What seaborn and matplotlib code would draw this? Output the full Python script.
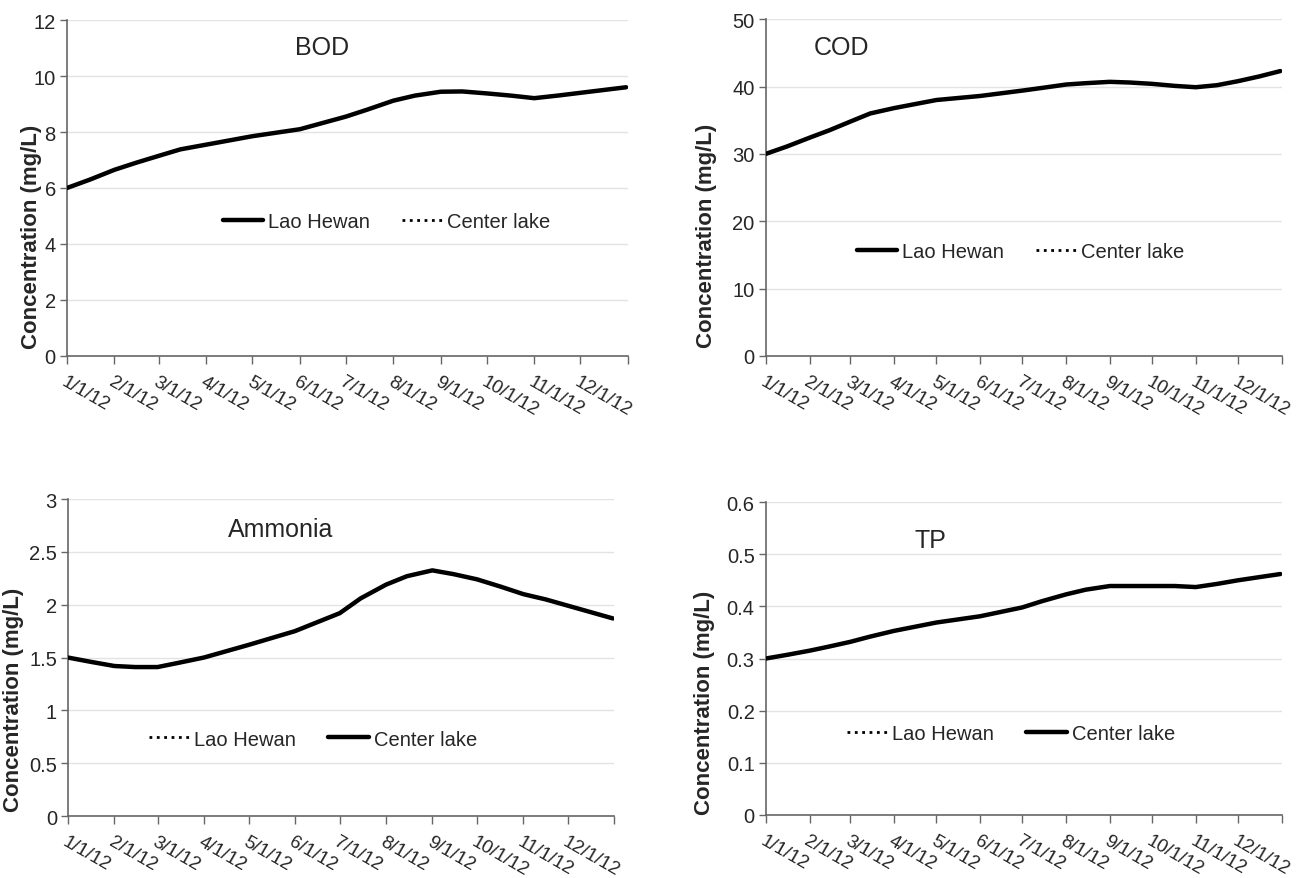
import pandas as pd
import matplotlib
matplotlib.use("Agg")
import matplotlib.pyplot as plt
import seaborn as sns

sns.set_style("white")
plt.rcParams['font.family'] = ['Liberation Sans', 'DejaVu Sans']

# day of year 2012 for each reading
days = [0, 15, 31, 45, 60, 74, 91, 121, 152, 182, 196, 213, 227, 244, 258, 274, 290, 305, 320, 335, 350, 365]

bod = [6.0, 6.3, 6.65, 6.9, 7.15, 7.38, 7.55, 7.85, 8.1, 8.55, 8.8, 9.12, 9.3, 9.44, 9.45, 9.38, 9.3, 9.21, 9.3, 9.4, 9.5, 9.6]
cod = [30.0, 31.1, 32.4, 33.5, 34.8, 36.0, 36.8, 38.0, 38.6, 39.4, 39.8, 40.3, 40.5, 40.7, 40.6, 40.4, 40.1, 39.9, 40.2, 40.8, 41.5, 42.3]
ammonia = [1.5, 1.46, 1.42, 1.41, 1.41, 1.45, 1.5, 1.62, 1.75, 1.92, 2.06, 2.19, 2.27, 2.325, 2.29, 2.24, 2.17, 2.1, 2.05, 1.99, 1.93, 1.87]
tp = [0.30, 0.307, 0.315, 0.323, 0.332, 0.342, 0.353, 0.369, 0.381, 0.398, 0.41, 0.423, 0.432, 0.439, 0.439, 0.439, 0.439, 0.437, 0.443, 0.45, 0.456, 0.462]

month_days = [0, 31, 60, 91, 121, 152, 182, 213, 244, 274, 305, 335, 366]
month_labels = ["1/1/12", "2/1/12", "3/1/12", "4/1/12", "5/1/12", "6/1/12",
                "7/1/12", "8/1/12", "9/1/12", "10/1/12", "11/1/12", "12/1/12", ""]

panels = [
    # name, values, ylim, yticks, ytick labels, rect, title pos, legend pos, dotted series, ylabel pos
    ("BOD", bod, 12, [0, 2, 4, 6, 8, 10, 12], None,
     [0.0516, 0.594, 0.432, 0.382], (0.455, 0.92), (0.57, 0.40), "Center lake", (-0.045, 0.357)),
    ("COD", cod, 50, [0, 10, 20, 30, 40, 50], None,
     [0.590, 0.594, 0.3975, 0.383], (0.147, 0.917), (0.494, 0.31), "Center lake", (-0.095, 0.36)),
    ("Ammonia", ammonia, 3, [0, 0.5, 1, 1.5, 2, 2.5, 3], ["0", "0.5", "1", "1.5", "2", "2.5", "3"],
     [0.0524, 0.0705, 0.421, 0.3606], (0.39, 0.905), (0.448, 0.243), "Lao Hewan", (-0.08, 0.37)),
    ("TP", tp, 0.6, [0, 0.1, 0.2, 0.3, 0.4, 0.5, 0.6], ["0", "0.1", "0.2", "0.3", "0.4", "0.5", "0.6"],
     [0.590, 0.0717, 0.3975, 0.356], (0.32, 0.88), (0.475, 0.26), "Lao Hewan", (-0.099, 0.36)),
]

fig = plt.figure(figsize=(12.98, 8.79), dpi=100)

for name, vals, ymax, yticks, ylabels, rect, tpos, lpos, dotted, ylpos in panels:
    ax = fig.add_axes(rect)
    df = pd.DataFrame({"day": days, "Lao Hewan": vals, "Center lake": vals})
    solid = "Lao Hewan" if dotted == "Center lake" else "Center lake"
    sns.lineplot(data=df, x="day", y=dotted, ax=ax, color="black", lw=2, linestyle=":", label=dotted, zorder=2)
    sns.lineplot(data=df, x="day", y=solid, ax=ax, color="black", lw=3.2, label=solid, zorder=3)

    ax.set_xlim(0, 366)
    ax.set_ylim(0, ymax)
    ax.set_yticks(yticks)
    if ylabels:
        ax.set_yticklabels(ylabels)
    ax.set_xticks(month_days)
    ax.set_xticklabels(month_labels, rotation=-30, ha="left", va="top", rotation_mode="anchor")
    ax.tick_params(axis="x", length=6, width=1, color="#666666", labelsize=13.5, pad=6, direction="out", bottom=True)
    ax.tick_params(axis="y", length=5, width=1, color="#666666", labelsize=14.5, pad=3, direction="out", left=True)
    ax.yaxis.grid(True, color="#e3e3e3", lw=1)
    ax.xaxis.grid(False)
    for s in ["top", "right"]:
        ax.spines[s].set_visible(False)
    for s in ["left", "bottom"]:
        ax.spines[s].set_color("#666666")
        ax.spines[s].set_linewidth(1.2)
    ax.set_xlabel("")
    ax.set_ylabel("Concentration (mg/L)", fontsize=16, fontweight="bold")
    ax.yaxis.set_label_coords(*ylpos)
    ax.text(tpos[0], tpos[1], name, transform=ax.transAxes, ha="center", va="center", fontsize=18)

    handles, labels = ax.get_legend_handles_labels()
    order = [labels.index("Lao Hewan"), labels.index("Center lake")]
    ax.legend([handles[i] for i in order], [labels[i] for i in order], ncol=2, frameon=False,
              loc="center", bbox_to_anchor=lpos, fontsize=14.5, handlelength=2.0,
              handletextpad=0.25, columnspacing=1.6)

fig.savefig("out.png", dpi=100)
